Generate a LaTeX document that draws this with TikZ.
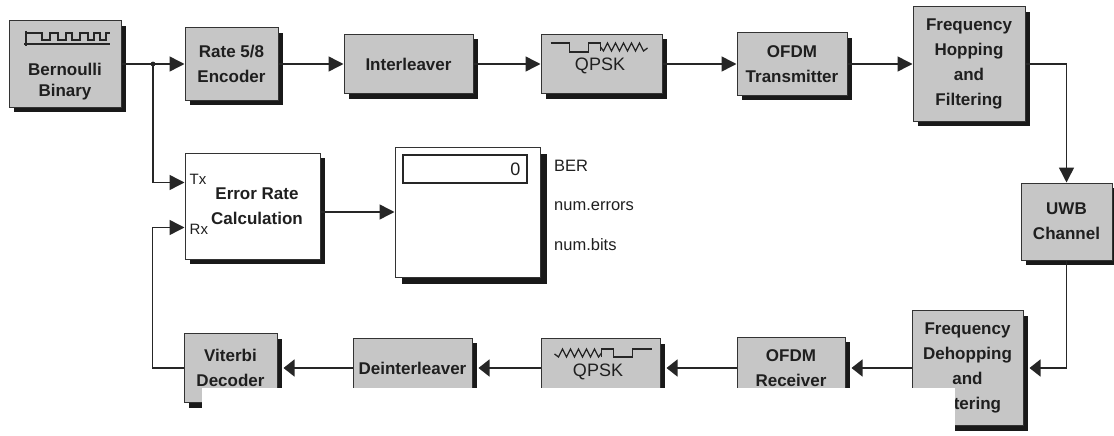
\documentclass[tikz,border=0pt]{standalone}
\usepackage{fontspec}
\setmainfont{Liberation Sans}
\usetikzlibrary{arrows.meta,shadows,calc}
\newcommand\blkfont{\fontsize{17}{25}\selectfont\bfseries}
\newcommand\portfont{\fontsize{16.5}{20}\selectfont}
\begin{document}
\begin{tikzpicture}[x=1pt,y=-1pt,
  line/.style={draw=black!85, line width=1.5pt},
  arr/.style={line, -{Triangle[length=15pt,width=15pt]}},
  arrb/.style={line, -{Triangle[length=11pt,width=17pt]}, shorten >=6pt},
  box/.style={draw=black!80, line width=1pt, fill=gray!45, text=black!88, inner sep=0pt, align=center, font=\blkfont},
  shad/.style={general shadow={fill=black!90, shadow xshift=#1, shadow yshift=-#1}},
  shad/.default=5pt,
  icon/.style={draw=black!85, line width=1.3pt},
  port/.style={font=\portfont, text=black!88, inner sep=0pt}
]
\useasboundingbox (0,0) rectangle (1114,436);

% ---------- top row ----------
\node[box, shad, minimum width=112pt, minimum height=86pt] (bern) at (65,64) {};
\node[font=\fontsize{17}{21}\selectfont\bfseries, text=black!88, align=center, inner sep=0pt] (bernlab) at (65,82) {Bernoulli\\Binary};
\node[box, shad, minimum width=93pt, minimum height=72pt] (enc) at (231.5,64) {Rate 5/8\\Encoder};
\node[box, shad, minimum width=129pt, minimum height=59pt] (intl) at (408.5,64) {Interleaver};
\node[box, shad, minimum width=121pt, minimum height=59pt] (qpsk) at (601.5,64) {};
\node[font=\fontsize{18}{20}\selectfont, text=black!88, inner sep=0pt] (qpsklab) at (600,66) {QPSK};
\node[box, shad, minimum width=110pt, minimum height=62pt] (ofdmt) at (792,64) {OFDM\\Transmitter};
\node[box, shad, minimum width=112pt, minimum height=114pt] (fh) at (969,64) {Frequency\\Hopping\\and\\Filtering};
\node[box, shad, minimum width=91pt, minimum height=77pt] (uwb) at (1066.5,221.5) {UWB\\Channel};

% ---------- middle ----------
\node[box, shad, fill=white, minimum width=135pt, minimum height=106pt] (erc) at (252.5,206) {};
\node[font=\blkfont, text=black!88, align=center, inner sep=0pt] (erclab) at (257,206) {Error Rate\\Calculation};
\node[port, anchor=west, font=\fontsize{15}{16}\selectfont] (txl) at ($(erc.north west)+(5,27)$) {Tx};
\node[port, anchor=west, font=\fontsize{15}{16}\selectfont] (rxl) at ($(erc.north west)+(5,77)$) {Rx};
\coordinate (tx) at ($(erc.north west)+(0,30)$);
\coordinate (rx) at ($(erc.north west)+(0,75)$);

\node[box, shad=7pt, fill=white, minimum width=145pt, minimum height=130pt] (disp) at (467.5,212) {};
\node[draw=black!85, line width=1.2pt, fill=white, minimum width=124pt, minimum height=28pt, inner sep=0pt] (field) at (465,169) {};
\node[port, anchor=east, font=\fontsize{18}{20}\selectfont] (zero) at ($(field.east)+(-7,0)$) {0};
\node[port, anchor=west] (ber) at (554,166) {BER};
\node[port, anchor=west] (nerr) at (554,206) {num.errors};
\node[port, anchor=west] (nbits) at (554,245) {num.bits};

% ---------- bottom row ----------
\node[box, shad, minimum width=93pt, minimum height=69pt] (vit) at (230.5,368) {Viterbi\\Decoder};
\node[box, shad, minimum width=119pt, minimum height=60pt] (dint) at (412.5,368) {Deinterleaver};
\node[box, shad, minimum width=119pt, minimum height=59pt] (qpskr) at (600.5,368) {};
\node[font=\fontsize{18}{20}\selectfont, text=black!88, inner sep=0pt] (qpskrlab) at (598,372) {QPSK};
\node[box, shad, minimum width=108pt, minimum height=62pt] (ofdmr) at (791,368) {OFDM\\Receiver};
\node[box, shad, minimum width=111pt, minimum height=115pt] (fdh) at (967.5,368) {Frequency\\Dehopping\\and\\Filtering};

% ---------- icons ----------
% Bernoulli pulse train
\draw[icon] (26,31) -- (26,46);
\draw[icon] (24,44) -- (110,44);
\draw[icon] (26,33) -- (42,33) -- (42,40) -- (50,40) -- (50,33) -- (58,33) -- (58,40) -- (66,40) -- (66,33)
  -- (72,33) -- (72,40) -- (80,40) -- (80,33) -- (88,33) -- (88,40) -- (94,40) -- (94,33) -- (100,33)
  -- (100,40) -- (106,40) -- (106,33) -- (110,33);
% QPSK icons (top and mirrored bottom)
\begin{scope}[shift={(qpsk.center)}]
  \draw[icon] (-51,-21) -- (-32,-21) -- (-32,-12) -- (-13,-12) -- (-13,-21) -- (-1,-21) -- (-1,-13);
  \draw[icon] (-1,-17) -- (2,-13) -- (6,-21) -- (10,-13) -- (14,-21) -- (18,-13) -- (22,-21) -- (26,-13) -- (30,-21) -- (34,-13) -- (38,-21) -- (42,-13) -- (46,-16);
\end{scope}
\begin{scope}[shift={(qpskr.center)}, xscale=-1]
  \draw[icon] (-51,-19) -- (-32,-19) -- (-32,-11) -- (-13,-11) -- (-13,-19) -- (-1,-19) -- (-1,-11);
  \draw[icon] (-1,-15) -- (2,-11) -- (6,-19) -- (10,-11) -- (14,-19) -- (18,-11) -- (22,-19) -- (26,-11) -- (30,-19) -- (34,-11) -- (38,-19) -- (42,-11) -- (46,-14);
\end{scope}

% ---------- connectors ----------
\coordinate (br) at (153,64);
\draw[line] (bern.east) -- (br);
\draw[arr] (br) -- (enc.west);
\fill[black!85] (br) circle (2.4pt);
\draw[arr] (br) |- (tx);
\draw[arr] (enc.east) -- (intl.west);
\draw[arr] (intl.east) -- (qpsk.west);
\draw[arr] (qpsk.east) -- (ofdmt.west);
\draw[arr] (ofdmt.east) -- (fh.west);
\draw[arr] (fh.east) -| (uwb.north);
\draw[arrb] (uwb.south) |- (fdh.east);
\draw[arrb] (fdh.west) -- (ofdmr.east);
\draw[arrb] (ofdmr.west) -- (qpskr.east);
\draw[arrb] (qpskr.west) -- (dint.east);
\draw[arrb] (dint.west) -- (vit.east);
\draw[arr] (vit.west) -- ++(-31,0) |- (rx);
\draw[arr] (erc.east |- disp.west) -- (disp.west);

% ---------- white cut-off area of the scan ----------
\fill[white] (202,388) rectangle (955,436);
\end{tikzpicture}
\end{document}
